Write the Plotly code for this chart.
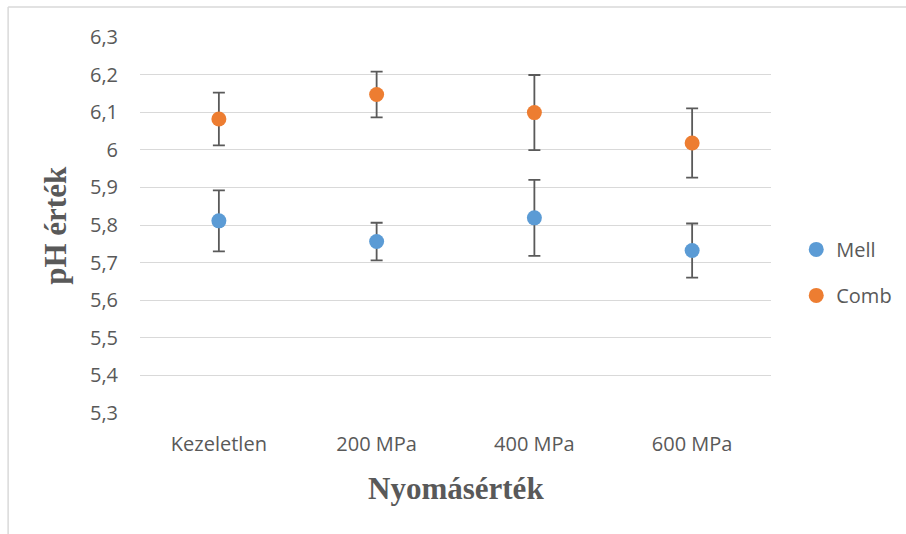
import plotly.graph_objects as go

# Treatment categories (pressure levels)
categories = ["Kezeletlen", "200 MPa", "400 MPa", "600 MPa"]

# Mean pH values and standard deviations per muscle type
mell_ph = [5.811, 5.756, 5.819, 5.732]
mell_sd = [0.081, 0.050, 0.101, 0.072]
comb_ph = [6.082, 6.147, 6.099, 6.018]
comb_sd = [0.070, 0.061, 0.100, 0.092]

# Y-axis ticks with decimal comma
y_tickvals = [5.3, 5.4, 5.5, 5.6, 5.7, 5.8, 5.9, 6.0, 6.1, 6.2, 6.3]
y_ticktext = ["5,3", "5,4", "5,5", "5,6", "5,7", "5,8", "5,9", "6", "6,1", "6,2", "6,3"]

tick_font = dict(family="Open Sans, sans-serif", size=20, color="#595959")
title_font = dict(family="Liberation Serif, Times New Roman, serif", size=31, color="#595959")
err_color = "#5a5a5a"

fig = go.Figure()
fig.add_trace(go.Scatter(
    x=categories, y=mell_ph, mode="markers", name="Mell", legendgroup="mell",
    marker=dict(color="#5B9BD5", size=15),
    error_y=dict(type="data", array=mell_sd, visible=True, color=err_color, thickness=1.8, width=6),
))
fig.add_trace(go.Scatter(
    x=categories, y=comb_ph, mode="markers", name="Comb", legendgroup="comb",
    marker=dict(color="#ED7D31", size=15),
    error_y=dict(type="data", array=comb_sd, visible=True, color=err_color, thickness=1.8, width=6),
))

fig.update_layout(
    width=906, height=534,
    margin=dict(l=140, r=135, t=37, b=121, autoexpand=False),
    paper_bgcolor="white", plot_bgcolor="white",
    showlegend=True,
    legend=dict(
        x=1.04, y=0.487, xanchor="left", yanchor="top",
        font=dict(family="Open Sans, sans-serif", size=20, color="#595959"),
        tracegroupgap=17, bgcolor="rgba(0,0,0,0)",
    ),
    xaxis=dict(
        type="category", range=[-0.5, 3.5], showgrid=False, zeroline=False,
        showline=False, ticks="", tickfont=tick_font, ticklabelstandoff=17,
        automargin=False,
    ),
    yaxis=dict(
        range=[5.3, 6.3], tickvals=y_tickvals, ticktext=y_ticktext,
        showgrid=True, gridcolor="#d9d9d9", gridwidth=1.4, zeroline=False,
        showline=False, ticks="", tickfont=tick_font, ticklabelstandoff=21,
        automargin=False,
    ),
    annotations=[
        dict(text="<b>Nyomásérték</b>", xref="paper", yref="paper", x=0.5, y=-0.148,
             xanchor="center", yanchor="top", showarrow=False, font=title_font),
        dict(text="<b>pH érték</b>", xref="paper", yref="paper", x=-0.135, y=0.5,
             xanchor="center", yanchor="middle", textangle=-90, showarrow=False, font=title_font),
    ],
    shapes=[
        # chart frame (left and top edges)
        dict(type="line", xref="paper", yref="paper", x0=-0.209, x1=1.3, y0=1.08, y1=1.08,
             line=dict(color="#d9d9d9", width=1.5)),
        dict(type="line", xref="paper", yref="paper", x0=-0.209, x1=-0.209, y0=1.08, y1=-0.35,
             line=dict(color="#d9d9d9", width=1.5)),
    ],
)

fig.write_html("out.html")
